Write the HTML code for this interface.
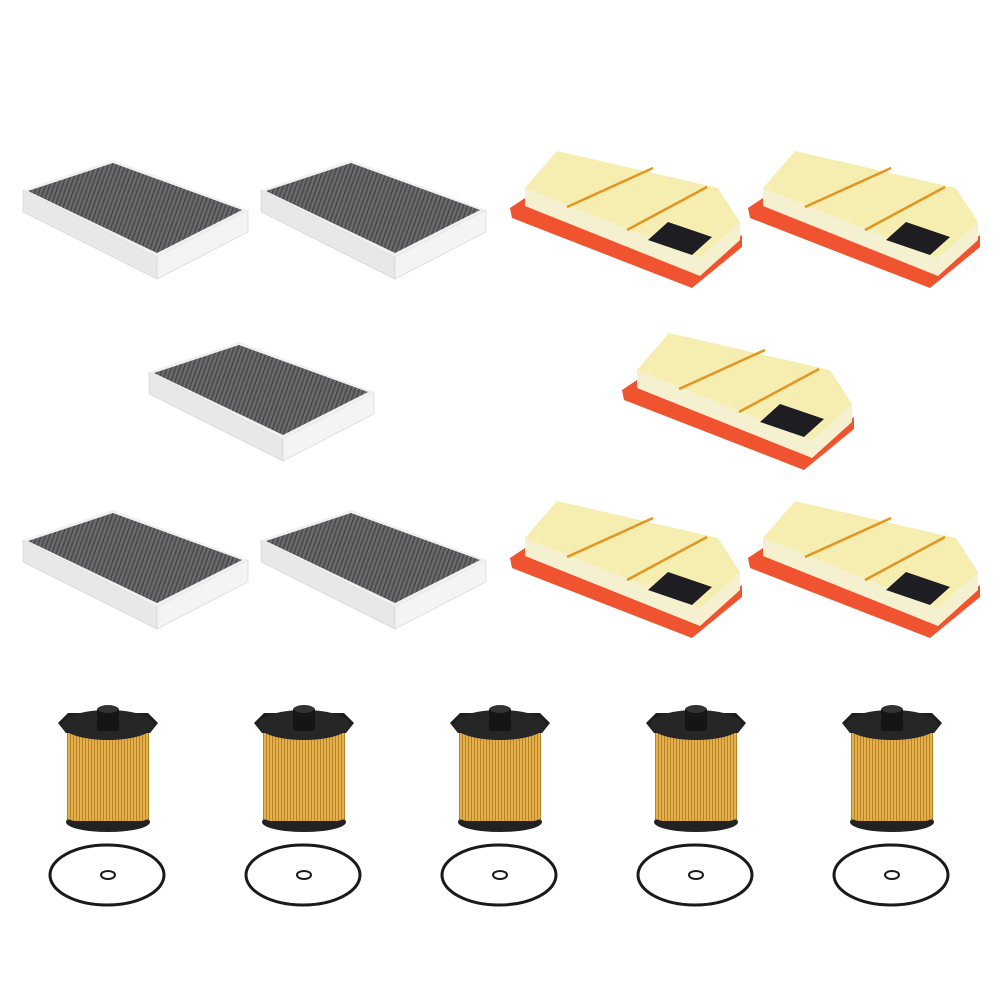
<!DOCTYPE html>
<html><head><style>html,body{margin:0;padding:0;background:#fff}svg{display:block}</style></head><body>
<svg width="1000" height="1000" viewBox="0 0 1000 1000" xmlns="http://www.w3.org/2000/svg">
<defs>
<pattern id="pl" width="4" height="4" patternUnits="userSpaceOnUse" patternTransform="rotate(20)">
<rect width="4" height="4" fill="#6a6a6c"/><rect width="1.4" height="4" fill="#464648"/></pattern>
<pattern id="yp" width="3" height="10" patternUnits="userSpaceOnUse">
<rect width="3" height="10" fill="#e3b04a"/><rect width="1" height="10" fill="#b9812a"/></pattern>
<g id="cab">
<polygon points="3,30 137,97 137,119 3,52" fill="#e8e8e8" stroke="#cfcfcf" stroke-width="0.6"/>
<polygon points="137,97 228,50 228,72 137,119" fill="#f4f4f4" stroke="#d0d0d0" stroke-width="0.6"/>
<polygon points="3,30 93,0 228,50 137,97" fill="#f0f0f0"/>
<polygon points="8,31 93,3 222,50 137,93" fill="url(#pl)"/>
</g>
<g id="air">
<polygon points="0,58 15,48 190,118 232,85 232,97 182,138 2,68" fill="#f0532f"/>
<polygon points="15,38 190,108 230,72 230,90 190,126 15,56" fill="#f5f0cf"/>
<polygon points="15,38 47,1 208,38 230,72 190,108" fill="#f6eeb0"/>
<line x1="57" y1="57" x2="143" y2="18" stroke="#e39520" stroke-width="2.5"/>
<line x1="117" y1="80" x2="197" y2="37" stroke="#e39520" stroke-width="2.5"/>
<polygon points="138,90 158,72 202,87 182,105" fill="#1e1e22"/>
</g>
<g id="oil">
<rect x="27" y="38" width="82" height="88" fill="url(#yp)"/>
<ellipse cx="68" cy="127" rx="42" ry="10" fill="#222"/>
<rect x="27" y="110" width="82" height="16" fill="url(#yp)"/>
<path d="M27,126 Q68,140 109,126" stroke="#222" stroke-width="4" fill="none"/>
<polygon points="18,28 28,18 108,18 118,28 110,38 26,38" fill="#1e1e1e"/>
<ellipse cx="68" cy="30" rx="46" ry="15" fill="#262626"/>
<rect x="57" y="12" width="22" height="24" rx="3" fill="#151515"/>
<ellipse cx="68" cy="14" rx="10" ry="4" fill="#333"/>
<ellipse cx="67" cy="180" rx="57" ry="30" fill="none" stroke="#1a1a1a" stroke-width="3"/>
<ellipse cx="68" cy="180" rx="7" ry="4" fill="none" stroke="#1a1a1a" stroke-width="2"/>
</g>
</defs>
<use href="#cab" x="20" y="160"/>
<use href="#cab" x="258" y="160"/>
<use href="#cab" x="146" y="342"/>
<use href="#cab" x="20" y="510"/>
<use href="#cab" x="258" y="510"/>
<use href="#air" x="510" y="150"/>
<use href="#air" x="748" y="150"/>
<use href="#air" x="622" y="332"/>
<use href="#air" x="510" y="500"/>
<use href="#air" x="748" y="500"/>
<use href="#oil" x="40" y="695"/>
<use href="#oil" x="236" y="695"/>
<use href="#oil" x="432" y="695"/>
<use href="#oil" x="628" y="695"/>
<use href="#oil" x="824" y="695"/>
</svg>
</body></html>
